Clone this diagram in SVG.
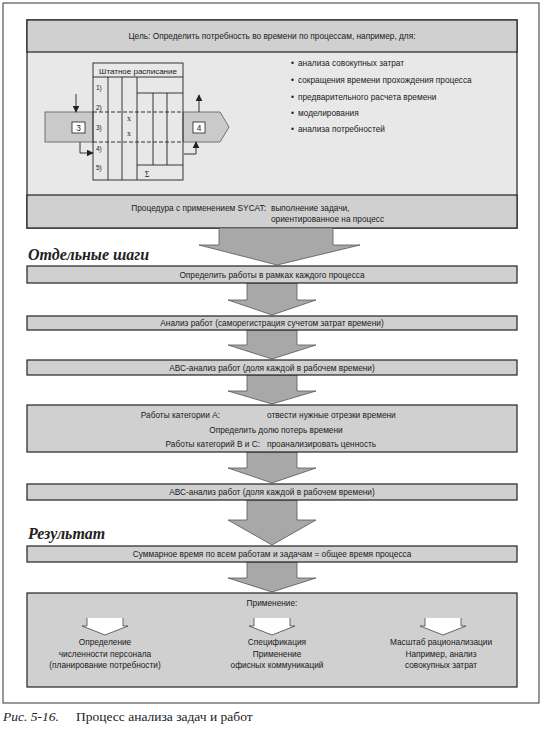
<svg xmlns="http://www.w3.org/2000/svg" width="545" height="730" viewBox="0 0 545 730">
<style>
.t{font-family:"Liberation Sans",Arial,sans-serif;font-size:8.3px;fill:#1a1a1a}
.c{text-anchor:middle}
.e{text-anchor:end}
.box{stroke:#222;stroke-width:1.2}
.dark{fill:#d0d0d0}
.light{fill:#e8e8e8}
.arr{fill:#a8a8a8;stroke:#555;stroke-width:0.8}
.warr{fill:#fff;stroke:#444;stroke-width:0.8}
.ln{stroke:#222;stroke-width:0.9;fill:none}
.h{font-family:"Liberation Serif","Times New Roman",serif;font-style:italic;font-weight:bold;font-size:16px;fill:#222}
</style>
<defs>
<marker id="ah" viewBox="0 0 10 10" refX="9" refY="5" markerWidth="7" markerHeight="7" orient="auto" markerUnits="userSpaceOnUse">
<path d="M0,0 L10,5 L0,10 z" fill="#222"/>
</marker>
</defs>
<rect x="3" y="3" width="536" height="700" fill="#fff" stroke="#333" stroke-width="1"/>

<g id="top">
<rect class="box light" x="27" y="20" width="490" height="208"/>
<rect class="box dark" x="27" y="20" width="490" height="32"/>
<rect class="box dark" x="27" y="195" width="490" height="33"/>
<text class="t c" x="272" y="39">Цель: Определить потребность во времени по процессам, например, для:</text>
<g id="bullets">
<text class="t" x="291" y="66">•</text><text class="t" x="298" y="66">анализа совокупных затрат</text>
<text class="t" x="291" y="83">•</text><text class="t" x="298" y="83">сокращения времени прохождения процесса</text>
<text class="t" x="291" y="100">•</text><text class="t" x="298" y="100">предварительного расчета времени</text>
<text class="t" x="291" y="116">•</text><text class="t" x="298" y="116">моделирования</text>
<text class="t" x="291" y="132">•</text><text class="t" x="298" y="132">анализа потребностей</text>
</g>
<text class="t e" x="266" y="211">Процедура с применением SYCAT:</text>
<text class="t" x="271" y="211">выполнение задачи,</text>
<text class="t" x="271" y="222">ориентированное на процесс</text>
</g>

<g id="schedule">
<rect x="45" y="112" width="48" height="30" fill="#cacaca" stroke="#666" stroke-width="0.9"/>
<polygon points="183,112 220,112 229,127 220,142 183,142" fill="#cacaca" stroke="#666" stroke-width="0.9"/>
<rect x="72" y="122" width="13" height="11" fill="#fff" stroke="#222" stroke-width="0.8"/>
<text class="t c" x="78.5" y="131">3</text>
<rect x="193" y="122" width="12" height="11" fill="#fff" stroke="#222" stroke-width="0.8"/>
<text class="t c" x="199" y="131">4</text>
<rect class="ln" x="93" y="63" width="90" height="117"/>
<line class="ln" x1="93" y1="77" x2="183" y2="77"/>
<line class="ln" x1="108" y1="77" x2="108" y2="180"/>
<line class="ln" x1="122" y1="77" x2="122" y2="180"/>
<line class="ln" x1="137" y1="77" x2="137" y2="180"/>
<line class="ln" x1="137" y1="93" x2="183" y2="93"/>
<line class="ln" x1="153" y1="93" x2="153" y2="165"/>
<line class="ln" x1="167" y1="93" x2="167" y2="165"/>
<line class="ln" x1="137" y1="165" x2="183" y2="165"/>
<line x1="93" y1="112" x2="183" y2="112" stroke="#222" stroke-width="0.9" stroke-dasharray="4,2"/>
<line x1="93" y1="142" x2="183" y2="142" stroke="#222" stroke-width="0.9" stroke-dasharray="4,2"/>
<text class="t c" x="138" y="74" style="font-size:8px">Штатное расписание</text>
<g class="t" style="font-size:6.5px">
<text x="96" y="90">1)</text>
<text x="96" y="110">2)</text>
<text x="96" y="130">3)</text>
<text x="96" y="151">4)</text>
<text x="96" y="170">5)</text>
<text class="c" x="129" y="121" style="font-family:'Liberation Serif',serif;font-size:8px">x</text>
<text class="c" x="129" y="136" style="font-family:'Liberation Serif',serif;font-size:8px">x</text>
<text class="c" x="147" y="177" style="font-family:'Liberation Serif',serif;font-size:8px">Σ</text>
</g>
</g>

<g id="connectors">
<line class="ln" x1="76" y1="94" x2="76" y2="112" marker-end="url(#ah)"/>
<line class="ln" x1="199" y1="112" x2="199" y2="95" marker-end="url(#ah)"/>
<polyline class="ln" points="80,142 80,153 93,153" marker-end="url(#ah)"/>
<polyline class="ln" points="184,154 196,154 196,142" marker-end="url(#ah)"/>
<polygon class="arr" points="219,228 333,228 333,245 360,245 277,265 199,245 219,245"/>
<polygon class="arr" points="247,283 297,283 297,300 316,300 272,315 228,300 247,300"/>
<polygon class="arr" points="247,330 297,330 297,345 316,345 272,359 228,345 247,345"/>
<polygon class="arr" points="247,375 297,375 297,391 316,391 272,404 228,391 247,391"/>
<polygon class="arr" points="247,452 297,452 297,468 316,468 272,483 228,468 247,468"/>
<polygon class="arr" points="247,500 297,500 297,520 316,520 272,545 228,520 247,520"/>
<polygon class="arr" points="247,562 297,562 297,578 316,578 272,592 228,578 247,578"/>
</g>

<text class="h" x="28" y="260">Отдельные шаги</text>

<g id="s1"><rect class="box dark" x="27" y="266" width="490" height="17"/><text class="t c" x="272" y="277.5">Определить работы в рамках каждого процесса</text></g>
<g id="s2"><rect class="box dark" x="27" y="316" width="490" height="14"/><text class="t c" x="272" y="326">Анализ работ (саморегистрация сучетом затрат времени)</text></g>
<g id="s3"><rect class="box dark" x="27" y="360" width="490" height="15"/><text class="t c" x="272" y="370.5">АВС-анализ работ (доля каждой в рабочем времени)</text></g>
<g id="s4"><rect class="box dark" x="27" y="405" width="490" height="47"/>
<text class="t e" x="220" y="418">Работы категории А:</text>
<text class="t" x="267" y="418">отвести нужные отрезки времени</text>
<text class="t c" x="276" y="433">Определить долю потерь времени</text>
<text class="t e" x="260" y="447">Работы категорий В и С:</text>
<text class="t" x="267" y="447">проанализировать ценность</text></g>
<g id="s5"><rect class="box dark" x="27" y="484" width="490" height="16"/><text class="t c" x="272" y="495">АВС-анализ работ (доля каждой в рабочем времени)</text></g>

<text class="h" x="28" y="539">Результат</text>

<g id="s6"><rect class="box dark" x="27" y="546" width="490" height="16"/><text class="t c" x="272" y="557">Суммарное время по всем работам и задачам = общее время процесса</text></g>
<g id="s7"><rect class="box dark" x="27" y="593" width="490" height="94"/>
<text class="t c" x="272" y="606">Применение:</text>
<path class="warr" d="M87,618 L87,626 L82,626 L105,635 L128,626 L123,626 L123,618"/>
<path class="warr" d="M254,618 L254,626 L249,626 L272,635 L295,626 L290,626 L290,618"/>
<path class="warr" d="M425,618 L425,626 L420,626 L443,635 L466,626 L461,626 L461,618"/>
<text class="t c" x="105" y="645">Определение</text>
<text class="t c" x="105" y="657">численности персонала</text>
<text class="t c" x="105" y="668">(планирование потребности)</text>
<text class="t c" x="277" y="645">Спецификация</text>
<text class="t c" x="277" y="657">Применение</text>
<text class="t c" x="277" y="668">офисных коммуникаций</text>
<text class="t c" x="441" y="645">Масштаб рационализации</text>
<text class="t c" x="441" y="657">Например, анализ</text>
<text class="t c" x="441" y="668">совокупных затрат</text></g>

<g id="caption" style="font-family:'Liberation Serif','Times New Roman',serif;font-size:13.5px;fill:#222">
<text x="3" y="721" font-style="italic">Рис. 5-16.</text>
<text x="76" y="721">Процесс анализа задач и работ</text>
</g>
</svg>
